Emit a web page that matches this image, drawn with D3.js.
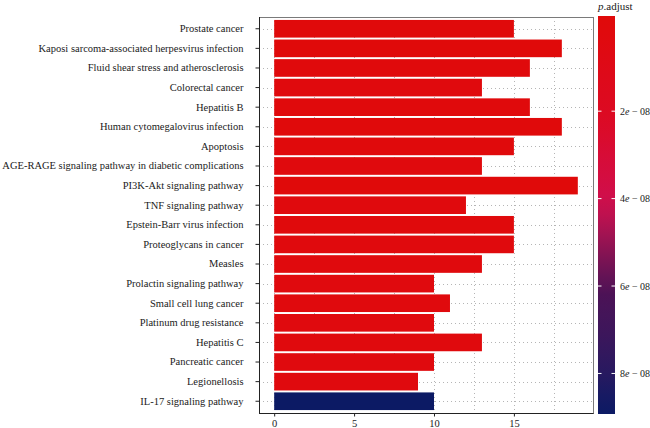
<!DOCTYPE html>
<html>
<head>
<meta charset="utf-8">
<script src="https://cdn.jsdelivr.net/npm/d3@7"></script>
<style>
  body { margin: 0; background: #fff; }
  svg text { font-family: "Liberation Serif", "DejaVu Serif", serif; }
</style>
</head>
<body>
<svg id="chart" width="650" height="428"></svg>
<script>
// ---- Dados
const pathways = [
    'Prostate cancer',
    'Kaposi sarcoma-associated herpesvirus infection',
    'Fluid shear stress and atherosclerosis',
    'Colorectal cancer',
    'Hepatitis B',
    'Human cytomegalovirus infection',
    'Apoptosis',
    'AGE-RAGE signaling pathway in diabetic complications',
    'PI3K-Akt signaling pathway',
    'TNF signaling pathway',
    'Epstein-Barr virus infection',
    'Proteoglycans in cancer',
    'Measles',
    'Prolactin signaling pathway',
    'Small cell lung cancer',
    'Platinum drug resistance',
    'Hepatitis C',
    'Pancreatic cancer',
    'Legionellosis',
    'IL-17 signaling pathway'
];
const counts = [15, 18, 16, 13, 16, 18, 15, 13, 19, 12, 15, 15, 13, 10, 11, 10, 13, 10, 9, 10];
const padjust = [
    1.1e-9, 6e-10, 1.4e-9, 2.0e-9, 1.6e-9, 9e-10, 1.8e-9, 2.2e-9, 5e-10, 2.4e-9,
    1.9e-9, 2.1e-9, 2.3e-9, 2.6e-9, 2.5e-9, 2.7e-9, 2.2e-9, 2.8e-9, 3.0e-9, 8.7e-8
];
const xTicks = [0, 5, 10, 15];
const legendTicks = [2e-8, 4e-8, 6e-8, 8e-8];
const legendLabels = ['2', '4', '6', '8'];

const svg = d3.select('#chart');
const panel = { left: 259, right: 593, top: 17, bottom: 413 };

// ---- Escalas
const mapX = d3.scaleLinear().domain([-0.95, 19.95]).range([panel.left, panel.right]);
const mapY = d3.scaleBand().domain(pathways).range([panel.top, panel.bottom])
    .paddingInner(0.1).paddingOuter(0.15);

const pExtent = d3.extent(padjust);
const colorStops = [0, 0.25, 0.47, 0.7, 1].map(t => pExtent[0] + t * (pExtent[1] - pExtent[0]));
const color = d3.scaleLinear()
    .domain(colorStops)
    .range(['#e00a0a', '#dc0a24', '#cf0f4e', '#4e1256', '#0c1a64'])
    .interpolate(d3.interpolateLab);

// ---- Grade
const grid = svg.append('g').attr('stroke', '#b5b5b5').attr('stroke-width', 1)
    .attr('stroke-dasharray', '1,3');
grid.selectAll('.gx')
    .data(d3.range(0, 20, 2.5))
    .join('line')
    .attr('x1', d => Math.round(mapX(d)) + 0.5)
    .attr('x2', d => Math.round(mapX(d)) + 0.5)
    .attr('y1', panel.top)
    .attr('y2', panel.bottom);
grid.selectAll('.gy')
    .data(pathways)
    .join('line')
    .attr('x1', panel.left)
    .attr('x2', panel.right)
    .attr('y1', d => Math.round(mapY(d) + mapY.bandwidth() / 2) + 0.5)
    .attr('y2', d => Math.round(mapY(d) + mapY.bandwidth() / 2) + 0.5);

// ---- Barras
svg.append('g')
    .selectAll('rect')
    .data(pathways)
    .join('rect')
    .attr('x', mapX(0))
    .attr('y', d => mapY(d))
    .attr('width', (d, i) => mapX(counts[i]) - mapX(0))
    .attr('height', mapY.bandwidth())
    .attr('fill', (d, i) => color(padjust[i]));

// ---- Borda
svg.append('rect')
    .attr('x', panel.left + 0.5).attr('y', panel.top + 0.5)
    .attr('width', panel.right - panel.left).attr('height', panel.bottom - panel.top)
    .attr('fill', 'none').attr('stroke', '#7a7a7a').attr('stroke-width', 1);

// ---- Eixos
const yAxis = d3.axisLeft(mapY).tickSize(4).tickPadding(12);
svg.append('g')
    .attr('transform', `translate(${panel.left + 0.5}, 0)`)
    .call(yAxis)
    .call(g => g.select('.domain').attr('stroke', '#222').attr('d', `M0,${panel.top}V${panel.bottom + 0.5}`))
    .call(g => g.selectAll('line').attr('stroke', '#222'))
    .call(g => g.selectAll('text').attr('fill', '#1a1a1a').style('font-size', '10.5px'));

const xAxis = d3.axisBottom(mapX).tickValues(xTicks).tickSize(3).tickPadding(3);
svg.append('g')
    .attr('transform', `translate(0, ${panel.bottom + 0.5})`)
    .call(xAxis)
    .call(g => g.select('.domain').attr('stroke', '#222').attr('d', `M${panel.left},0H${panel.right + 0.5}`))
    .call(g => g.selectAll('line').attr('stroke', '#222'))
    .call(g => g.selectAll('text').attr('fill', '#1a1a1a').style('font-size', '10.5px'));

// ---- Legenda
const bar = { x: 598, y: 16, w: 17, h: 398 };
const half = bar.h / 40;
const mapLegend = d3.scaleLinear().domain(pExtent).range([bar.y + half, bar.y + bar.h - half]);

const grad = svg.append('defs').append('linearGradient')
    .attr('id', 'grad').attr('x1', 0).attr('x2', 0).attr('y1', 0).attr('y2', 1);
grad.selectAll('stop')
    .data(d3.range(0, 1.0001, 0.05))
    .join('stop')
    .attr('offset', t => t)
    .attr('stop-color', t => {
        const y = bar.y + t * bar.h;
        const v = mapLegend.invert(Math.max(bar.y + half, Math.min(bar.y + bar.h - half, y)));
        return color(v);
    });

svg.append('rect')
    .attr('x', bar.x).attr('y', bar.y).attr('width', bar.w).attr('height', bar.h)
    .attr('fill', 'url(#grad)');

const lt = svg.append('g');
lt.selectAll('.tl')
    .data(legendTicks)
    .join('line')
    .attr('x1', bar.x).attr('x2', bar.x + 3.5)
    .attr('y1', d => mapLegend(d)).attr('y2', d => mapLegend(d))
    .attr('stroke', '#fff').attr('stroke-width', 1);
lt.selectAll('.tr')
    .data(legendTicks)
    .join('line')
    .attr('x1', bar.x + bar.w - 3.5).attr('x2', bar.x + bar.w)
    .attr('y1', d => mapLegend(d)).attr('y2', d => mapLegend(d))
    .attr('stroke', '#fff').attr('stroke-width', 1);

const labels = lt.selectAll('text')
    .data(legendTicks)
    .join('text')
    .attr('x', 620)
    .attr('y', d => mapLegend(d))
    .attr('dy', '0.35em')
    .attr('fill', '#1a1a1a')
    .style('font-size', '10px');
labels.append('tspan').text((d, i) => legendLabels[i]);
labels.append('tspan').style('font-style', 'italic').text('e');
labels.append('tspan').text(' \u2212 08');

const title = svg.append('text')
    .attr('x', 598).attr('y', 9.5)
    .attr('fill', '#1a1a1a')
    .style('font-size', '11px');
title.append('tspan').style('font-style', 'italic').text('p');
title.append('tspan').text('.adjust');
</script>
</body>
</html>
